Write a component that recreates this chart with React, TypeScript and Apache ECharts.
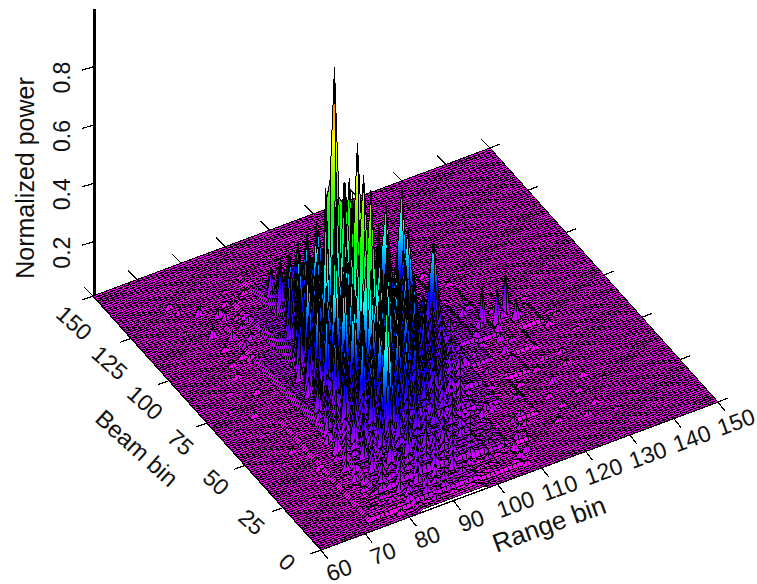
import React, { useEffect, useRef } from "react";
import * as echarts from "echarts";

const rangeTicks = [60, 70, 80, 90, 100, 110, 120, 130, 140, 150];
const beamTicks = [0, 25, 50, 75, 100, 125, 150];
const powerTicks = [0.2, 0.4, 0.6, 0.8];
const floorPower = 0.0137;

// percent power, every second range bin, every third beam bin
const rowBeams = [3,6,9,12,15,18,21,24,27,30,33,36,39,42,45,48,51,54,57,60,63,66,69,72,75,78,81,84,87,90,93,96,99,102,105,108,111,114,117,120,123,126,129];
const rowStarts = [79,76,75,76,75,76,75,76,75,76,77,76,77,78,77,78,79,78,79,80,81,80,81,82,81,82,83,84,85,84,85,88,87,88,89,88,89,90,89,90,91,90,91];
const rowValues = [
  [3,2,3,3,4,3,3,2,3,2],
  [2,3,3,5,3,6,4,5,3,4,3,3,2],
  [3,2,4,3,6,4,7,5,6,4,5,3,3,3,2],
  [3,4,3,6,5,8,5,7,5,8,4,5,3,4,3,2],
  [2,3,5,4,8,5,9,6,8,5,7,5,6,4,3,3,2],
  [4,3,7,5,10,6,11,8,9,6,8,5,6,3,4,3],
  [3,5,4,8,6,11,7,12,8,11,7,9,5,6,4,3,3],
  [5,4,9,7,12,8,14,9,12,8,10,6,7,5,4,3,2],
  [3,6,5,10,8,14,9,15,10,13,8,11,7,8,5,4,3],
  [6,5,11,9,15,10,17,12,15,9,12,8,9,6,5,4],
  [7,6,12,10,19,12,20,13,17,11,13,9,10,7,5,4],
  [4,8,7,14,11,21,14,24,15,20,12,15,10,11,8,6,4],
  [9,7,15,13,24,15,26,17,23,14,17,11,12,8,7,4],
  [10,8,18,14,26,18,30,20,26,16,20,13,14,9,8,5],
  [6,11,9,20,15,30,20,34,22,30,17,22,15,16,10,8,5],
  [12,10,22,17,33,22,36,24,32,20,24,16,18,12,9,6],
  [13,11,25,19,36,25,40,27,35,22,27,18,20,14,11,7],
  [8,14,12,27,21,38,27,44,29,37,23,29,20,22,15,12,9],
  [15,13,29,23,42,29,47,31,39,25,31,22,24,16,14,10,7],
  [16,14,31,24,44,31,52,33,46,27,33,24,26,18,15,11,8],
  [17,34,26,47,33,56,35,50,29,35,26,28,20,16,12,9],
  [11,19,35,28,54,35,58,37,52,31,37,28,30,22,17,13,9],
  [21,37,29,56,37,60,39,52,33,39,30,32,24,19,15,11,8],
  [23,39,31,58,39,60,41,54,35,41,32,34,26,20,16,12,9],
  [13,25,41,33,60,41,62,43,50,37,43,34,32,26,18,14,10],
  [25,43,35,60,43,64,45,52,37,41,32,30,24,17,12,8],
  [27,45,35,62,44,60,43,50,39,43,34,30,22,15,10],
  [27,41,34,54,41,52,41,46,37,41,32,26,18,12],
  [29,39,33,50,39,48,39,44,35,37,28,22,14,8],
  [17,29,37,31,46,37,44,37,42,31,34,24,16,10],
  [27,35,29,42,35,40,35,38,29,30,20,12],
  [33,27,40,31,38,31,34,25,24,16,9],
  [31,25,36,29,34,27,30,21,20,12],
  [27,23,32,27,30,23,26,17,14,8],
  [25,21,28,23,26,21,22,13,10],
  [23,19,26,21,24,17,18,10,7],
  [19,17,24,17,20,14,14,8],
  [17,15,20,15,16,11,9],
  [14,12,16,12,12,7,6],
  [11,9,12,9,9,5],
  [8,7,9,6,6,4],
  [5,4,6,3,4],
  [3,3,4,2],
];

// valley level in percent between the speckle peaks (beam 0,10..130 ; range 70,75..130)
const valleyBeams = [0,10,20,30,40,50,60,70,80,90,100,110,120,130];
const valleyRanges = [70,75,80,85,90,95,100,105,110,115,120,125,130];
const valleyValues = [
  [0,0,0,1,1,1,0,0,0,0,0,0,0],
  [0,1,1,2,2,2,1,1,0,0,0,0,0],
  [0,1,2,3,4,3,3,2,1,0,0,0,0],
  [0,1,3,5,7,6,4,2,1,1,0,0,0],
  [0,1,3,7,10,9,6,3,2,1,0,0,0],
  [0,1,4,9,13,13,9,5,3,1,1,0,0],
  [0,1,4,10,17,17,13,8,5,2,1,1,0],
  [0,0,3,10,19,20,16,11,7,3,2,1,1],
  [0,0,2,9,19,22,17,12,7,3,2,1,0],
  [0,0,2,7,16,20,16,11,5,2,1,0,0],
  [0,0,1,4,12,17,13,8,3,1,0,0,0],
  [0,0,1,2,7,11,7,4,1,0,0,0,0],
  [0,0,0,1,3,4,3,1,0,0,0,0,0],
  [0,0,0,0,1,1,1,0,0,0,0,0,0],
];

// isolated tall peaks and their shoulders
const peakRanges = [92,91,93,92,92, 91,90,92,91,91, 95,95,95,94,96, 91,90,92,91,91, 92,91,93,92, 94,94,94,93,95, 109,109,109,108,110, 107,107,107,106,108, 111,111,111,110,112, 104,104,104,103,105, 92,95, 93,93,93,92,94, 87,87,87,86,88, 127,121,124,128];
const peakBeams = [84,84,84,83,85, 66,66,66,65,67, 83,82,84,83,83, 62,62,62,61,63, 60,60,60,59, 87,86,88,87,87, 89,88,90,89,89, 79,78,80,79,79, 74,73,75,74,74, 85,84,86,85,85, 103,103, 80,79,81,80,80, 35,34,36,35,35, 73,71,70,69];
const peakPowers = [1.0,.62,.55,.65,.6, .85,.5,.55,.6,.5, .61,.42,.38,.34,.4, .765,.5,.52,.58,.5, .72,.48,.42,.45, .5,.34,.3,.3,.34, .466,.27,.24,.26,.23, .394,.22,.24,.26,.22, .366,.22,.22,.22,.2, .455,.28,.26,.3,.27, .288,.315, .624,.42,.45,.36,.4, .518,.3,.3,.26,.28, .17,.16,.14,.09];

// low bumps outside the main return
const bumpRanges = [72,75,78,81,74,77,80,83,71,76,79,82,84,73,78,81,70,74,77,112,115,118,121,124,127,130,113,116,119,122,125,128,131,134,114,117,120,123,126,129,132,110,112,115,118,121,124,127,68,70,72,66,69,73,105,108,111,104,107,110,113,116,119,100,103,106,109,96,99,102,122,126,130,118,124,133,136,
  108,110,112,114,107,109,111,113,115,108,110,112,106,108,110,84,86,82,80,78,76,83,85,81,79,72,68,66,64,67,70,118,120,122,116,119,123,126,117,121,125,129,133,137,131,127,135];
const bumpBeams = [128,124,120,116,112,108,104,100,132,126,118,112,106,96,92,88,118,104,96,54,50,46,52,44,48,42,38,34,40,30,36,28,34,30,22,26,18,24,16,20,14,60,64,58,62,56,60,54,60,48,36,24,70,80,110,116,106,124,120,114,118,112,104,132,128,136,126,138,134,140,96,100,92,88,84,78,66,
  12,16,20,26,30,34,38,42,46,8,10,24,6,4,32,122,126,114,110,102,98,130,134,124,120,90,84,76,66,44,30,66,70,62,74,78,66,72,82,80,76,70,62,56,48,58,68];
const bumpPowers = [3,4,4,3,5,4,4,5,3,3,4,4,5,3,4,4,2,3,3,3,4,3,4,3,3,3,3,4,3,3,4,3,3,2,3,3,3,3,3,3,2,5,4,5,4,5,4,3,2,3,3,2,3,3,3,3,3,3,3,3,2,2,3,2,3,2,2,2,2,2,3,2,2,3,2,2,2,
  5,5,4,4,6,5,4,4,3,4,4,4,3,3,5,3,3,4,4,4,3,2,2,3,3,3,2,2,2,2,2,6,7,5,5,6,6,5,4,5,4,4,3,2,3,3,2];

const BL = { x: 321, y: 554 };
const UX = 397, UY = -148, VX = -228, VY = -254, ZS = 291.7;

function project(r: number, b: number, z: number): [number, number] {
  const u = (r - 60) / 90, v = b / 150;
  return [BL.x + UX * u + VX * v, BL.y + UY * u + VY * v - ZS * z];
}

const NR = 91, NB = 151;
const grid = new Float32Array(NR * NB).fill(floorPower);
const setZ = (r: number, b: number, z: number) => {
  if (r >= 60 && r <= 150 && b >= 0 && b <= 150) grid[(r - 60) + b * NR] = z;
};
const getZ = (r: number, b: number) => grid[(r - 60) + b * NR];
valleyBeams.forEach((vb, i) => valleyRanges.forEach((vr, k) => {
  const p = valleyValues[i][k];
  if (!p) return;
  for (let b = vb - 5; b < vb + 5; b++) for (let r = vr - 2; r <= vr + 2; r++) setZ(r, b, floorPower + p / 100);
}));
bumpRanges.forEach((r, i) => setZ(r, bumpBeams[i], bumpPowers[i] / 100));
rowBeams.forEach((b, i) => rowValues[i].forEach((p, k) => setZ(rowStarts[i] + 2 * k, b, p / 100)));
peakRanges.forEach((r, i) => setZ(r, peakBeams[i], peakPowers[i]));

const palette: [number, number[]][] = [
  [0, [255, 0, 255]], [0.17, [0, 0, 255]], [0.33, [0, 255, 255]],
  [0.5, [0, 255, 0]], [0.75, [255, 255, 0]], [1, [255, 0, 0]],
];
function colorOf(z: number) {
  const t = Math.max(0, Math.min(1, z));
  for (let i = 1; i < palette.length; i++) {
    if (t <= palette[i][0]) {
      const [a, ca] = palette[i - 1], [c, cb] = palette[i];
      const f = (t - a) / (c - a);
      const m = ca.map((q, k) => Math.round(q + (cb[k] - q) * f));
      return `rgb(${m[0]},${m[1]},${m[2]})`;
    }
  }
  return "rgb(255,0,0)";
}

function renderCell(_: any, api: any) {
  const r = api.value(0), b = api.value(1);
  const zs = [getZ(r, b), getZ(r + 1, b), getZ(r + 1, b + 1), getZ(r, b + 1)];
  const lo = Math.min(...zs), hi = Math.max(...zs);
  let fill: any = hi < 0.03 ? "rgb(255,0,255)" : colorOf((lo + hi) / 2);
  if (hi - lo > 0.03) {
    const stops: any[] = [{ offset: 0, color: colorOf(hi) }];
    [...palette].reverse().forEach(([p]) => {
      if (p > lo && p < hi) stops.push({ offset: (hi - p) / (hi - lo), color: colorOf(p) });
    });
    stops.push({ offset: 1, color: colorOf(lo) });
    fill = new echarts.graphic.LinearGradient(0, 0, 0, 1, stops);
  }
  return {
    type: "polygon",
    shape: { points: [project(r, b, zs[0]), project(r + 1, b, zs[1]), project(r + 1, b + 1, zs[2]), project(r, b + 1, zs[3])] },
    style: { fill, stroke: "#000", lineWidth: 1 },
  };
}

const FONT = '23px "Liberation Sans", Arial, sans-serif';
const deg = (d: number) => (d * Math.PI) / 180;
const tickLine = (p: [number, number], dx: number, dy: number) => ({
  type: "line", z: 1,
  shape: { x1: p[0], y1: p[1], x2: p[0] + dx, y2: p[1] + dy },
  style: { stroke: "#000", lineWidth: 1.2 },
});
const label = (text: string, x: number, y: number, rot: number, size = FONT) => ({
  type: "text", x, y, rotation: deg(rot), z: 5,
  style: { text, font: size, fill: "#111", align: "center", verticalAlign: "middle" },
});
const titleFont = (px: number) => `${px}px "Liberation Sans", Arial, sans-serif`;

function buildGraphics() {
  const g: any[] = [];
  rangeTicks.forEach((r) => {
    const f = project(r, 0, floorPower), k = project(r, 150, floorPower);
    g.push(tickLine(f, 7, 9), tickLine(k, -9, -9));
    g.push(label(String(r), f[0] + 18, f[1] + 20, 20));
  });
  beamTicks.forEach((b) => {
    const l = project(60, b, floorPower), h = project(150, b, floorPower);
    const v = b / 150;
    g.push(tickLine(l, -11, 4), tickLine(h, 10, -4));
    g.push(label(String(b), l[0] - 34 + 15 * v, l[1] + 12 + 15 * v, -42));
  });
  powerTicks.forEach((z) => {
    const [, y] = project(60, 150, z);
    g.push({ type: "line", z: 1, shape: { x1: 94, y1: y, x2: 82, y2: y + 3.5 }, style: { stroke: "#000", lineWidth: 1.2 } });
    g.push(label(z.toFixed(1), 62, y + 11, 90));
  });
  const top = project(60, 150, 0.9985);
  const base = project(60, 150, floorPower);
  g.push({ type: "line", z: 3, shape: { x1: 94.5, y1: top[1], x2: 94.5, y2: base[1] }, style: { stroke: "#000", lineWidth: 3 } });
  const c0 = project(60, 150, floorPower), c1 = project(60, 0, floorPower), c2 = project(150, 0, floorPower);
  g.push({ type: "polyline", z: 4, shape: { points: [c0, c1, c2] }, style: { stroke: "#000", lineWidth: 1.4, fill: "none" } });
  g.push(label("Normalized power", 25, 178, 90, titleFont(25)));
  g.push(label("Beam bin", 137, 448, -42, titleFont(24)));
  g.push(label("Range bin", 549, 524, 20, titleFont(26)));
  return g;
}

export default function App() {
  const ref = useRef<HTMLDivElement>(null);
  useEffect(() => {
    const chart = echarts.init(ref.current!, null, { renderer: "svg" });
    const cells: number[][] = [];
    for (let b = NB - 2; b >= 0; b--) for (let r = 149; r >= 60; r--) cells.push([r, b]);
    chart.setOption({
      animation: false,
      backgroundColor: "#fff",
      graphic: { elements: buildGraphics() },
      series: [{
        type: "custom", coordinateSystem: "none", silent: true, z: 2, progressive: 0,
        renderItem: renderCell, data: cells, encode: { tooltip: [] },
      }],
    });
    return () => chart.dispose();
  }, []);
  return (
    <>
      <style>{`svg path{shape-rendering:crispEdges}`}</style>
      <div ref={ref} style={{ position: "absolute", left: 0, top: 0, width: 757, height: 584 }} />
    </>
  );
}
